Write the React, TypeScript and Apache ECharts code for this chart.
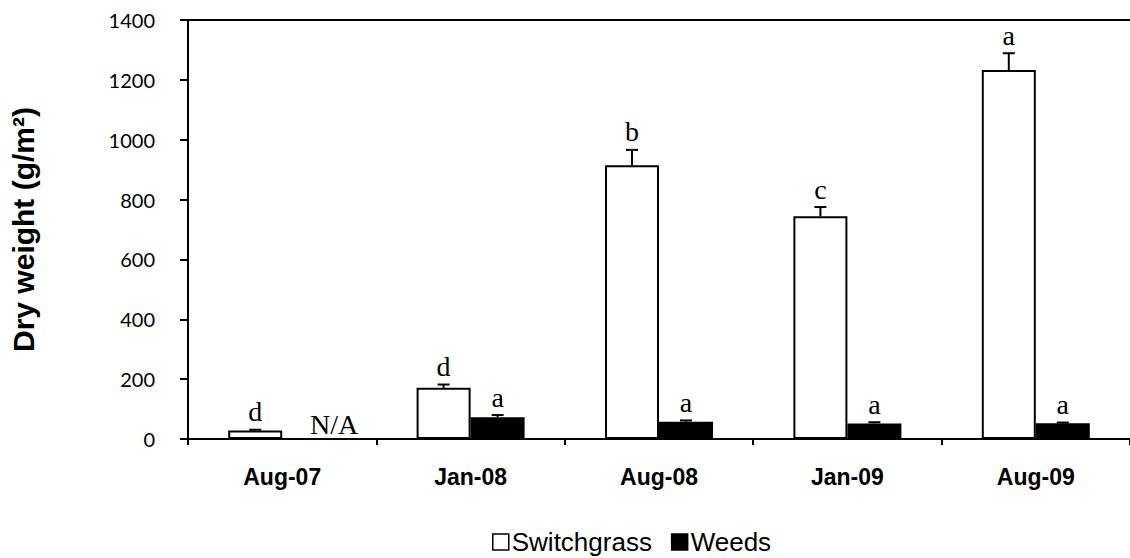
import React, { useEffect, useRef } from "react";
import * as echarts from "echarts";

const categories = ["Aug-07", "Jan-08", "Aug-08", "Jan-09", "Aug-09"];
const switchgrass = [28, 171, 915, 744, 1233];
const switchgrassErr = [3, 11, 51, 31, 56];
const switchgrassLetters = ["d", "d", "b", "c", "a"];
const weeds: (number | null)[] = [null, 73, 58, 52, 53];
const weedsErr: (number | null)[] = [null, 7, 4, 4, 2];
const weedsLetters = ["N/A", "a", "a", "a", "a"];
const yTicks = { min: 0, max: 1400, interval: 200 };

const BAR_W = 54;

const errorSeries = (
  name: string,
  means: (number | null)[],
  errs: (number | null)[],
  letters: string[],
  offset: number
) => ({
  type: "custom",
  name: name + "-err",
  coordinateSystem: "cartesian2d",
  z: 5,
  silent: true,
  encode: { x: 0, y: 1 },
  data: means.map((m, i) => [i, m ?? 0, errs[i] ?? 0]),
  renderItem: (params: any, api: any) => {
    const i = api.value(0);
    const mean = api.value(1);
    const err = api.value(2);
    const base = api.coord([i, mean]);
    const top = api.coord([i, mean + err]);
    const x = base[0] + offset;
    const missing = means[params.dataIndex] == null;
    const children: any[] = [];
    if (err > 0) {
      children.push({
        type: "line",
        shape: { x1: x, y1: base[1], x2: x, y2: top[1] },
        style: { stroke: "#000", lineWidth: 2 },
      });
      children.push({
        type: "line",
        shape: { x1: x - 6, y1: top[1], x2: x + 6, y2: top[1] },
        style: { stroke: "#000", lineWidth: 2 },
      });
    }
    children.push({
      type: "text",
      x: missing ? x + 25 : x,
      y: top[1] - (missing ? 1 : 4),
      style: {
        text: letters[params.dataIndex],
        fontFamily: "Liberation Serif",
        fontSize: 28,
        fill: "#000",
        align: "center",
        verticalAlign: "bottom",
      },
    });
    return { type: "group", children };
  },
});

const App: React.FC = () => {
  const chartRef = useRef<HTMLDivElement>(null);

  useEffect(() => {
    if (!chartRef.current) return;
    const chart = echarts.init(chartRef.current, undefined, { renderer: "svg" });

    const option: any = {
      animation: false,
      backgroundColor: "#fff",
      grid: { left: 180, right: -8, top: 20, bottom: 119 },
      legend: {
        left: 487,
        top: 524,
        itemWidth: 16,
        itemHeight: 16,
        itemGap: 19,
        selectedMode: false,
        textStyle: { fontFamily: "Liberation Sans", fontSize: 26, color: "#000", padding: [0, 0, 0, -2] },
        data: [
          { name: "Switchgrass", icon: "rect", itemStyle: { color: "#fff", borderColor: "#000", borderWidth: 1.5 } },
          { name: "Weeds", icon: "rect", itemStyle: { color: "#000", borderColor: "#000", borderWidth: 1.5 } },
        ],
      },
      xAxis: {
        type: "category",
        data: categories,
        boundaryGap: true,
        axisLine: { lineStyle: { color: "#000", width: 2 } },
        axisTick: { show: true, length: 6, lineStyle: { color: "#000", width: 2 } },
        axisLabel: {
          margin: 26,
          color: "#000",
          fontFamily: "Liberation Sans",
          fontWeight: "bold",
          fontSize: 23,
        },
      },
      yAxis: {
        type: "value",
        ...yTicks,
        name: "Dry weight (g/m²)",
        nameLocation: "middle",
        nameRotate: 90,
        nameGap: 150,
        nameTextStyle: {
          fontFamily: "Liberation Sans",
          fontWeight: "bold",
          fontSize: 30,
          color: "#000",
        },
        axisLine: { show: true, lineStyle: { color: "#000", width: 2 } },
        axisTick: { show: true, length: 8, lineStyle: { color: "#000", width: 2 } },
        axisLabel: {
          margin: 33,
          color: "#000",
          fontFamily: "Lato",
          fontSize: 20,
          formatter: (v: number) => String(v),
        },
        splitLine: { show: false },
      },
      series: [
        {
          type: "bar",
          name: "Switchgrass",
          data: switchgrass,
          barWidth: BAR_W,
          barGap: "0%",
          itemStyle: { color: "#fff", borderColor: "#000", borderWidth: 2 },
          markLine: {
            silent: true,
            symbol: "none",
            label: { show: false },
            lineStyle: { color: "#000", width: 2, type: "solid" },
            data: [{ yAxis: yTicks.max }],
          },
        },
        {
          type: "bar",
          name: "Weeds",
          data: weeds,
          barWidth: BAR_W,
          barGap: "0%",
          itemStyle: { color: "#000", borderColor: "#000", borderWidth: 2 },
        },
        errorSeries("Switchgrass", switchgrass, switchgrassErr, switchgrassLetters, -BAR_W / 2),
        errorSeries("Weeds", weeds, weedsErr, weedsLetters, BAR_W / 2),
      ],
    };

    chart.setOption(option);
    return () => {
      chart.dispose();
    };
  }, []);

  return (
    <div
      ref={chartRef}
      style={{ position: "absolute", left: 0, top: 0, width: 1130, height: 558 }}
    />
  );
};

export default App;
